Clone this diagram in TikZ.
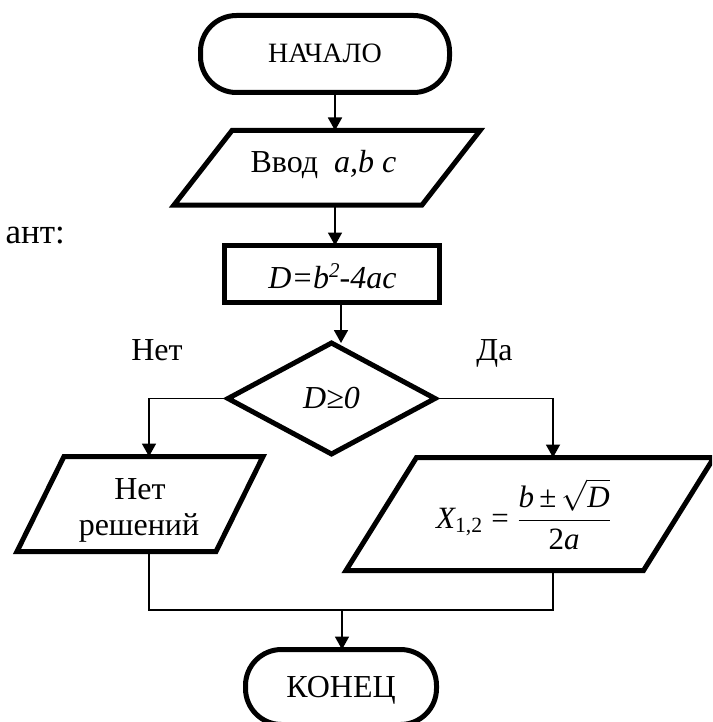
\RequirePackage{fix-cm}
\documentclass[tikz,border=0pt]{standalone}
\usepackage{amsmath}
\usepackage{fontspec}
\setmainfont{Liberation Serif}
\usetikzlibrary{arrows.meta,shapes.geometric}
\begin{document}
\begin{tikzpicture}[x=1pt,y=-1pt,
  box/.style={draw, line width=5pt, inner sep=0pt, outer sep=0pt},
  term/.style={box, rounded corners=36pt},
  outline/.style={line width=5pt, line join=miter},
  link/.style={line width=1.8pt},
  arr/.style={link, -{Triangle[length=13pt,width=14pt]}},
  txt/.style={inner sep=0pt, anchor=base, font=\fontsize{32}{36}\selectfont},
]
\useasboundingbox (0,0) rectangle (712,722);
\clip (0,0) rectangle (712,722);

% shapes
\node[term, minimum width=249pt, minimum height=77pt] (start) at (325,54) {};
\draw[outline] (232,130.5) -- (480,130.5) -- (422,205) -- (174,205) -- cycle;
\coordinate (inpN) at (335,130.5);
\coordinate (inpS) at (335,205);
\node[box, minimum width=215pt, minimum height=57pt] (calc) at (332,274) {};
\node[box, diamond, minimum width=207pt, minimum height=111pt] (dec) at (331.5,398.5) {};
\draw[outline] (64,456.5) -- (263,456.5) -- (216,551.5) -- (17,551.5) -- cycle;
\coordinate (noT) at (149,456.5);
\coordinate (noB) at (149,551.5);
\draw[outline] (416.5,457.5) -- (714,457.5) -- (643.5,570.5) -- (346,570.5) -- cycle;
\coordinate (yesT) at (553,457.5);
\coordinate (yesB) at (553,570.5);
\node[term, minimum width=191pt, minimum height=75pt] (finish) at (341,687) {};
\coordinate (join) at (342,610);

% connectors
\draw[arr] (start.south -| inpN) -- (inpN);
\draw[arr] (inpS) -- (inpS |- calc.north);
\draw[arr] ([xshift=9pt]calc.south) -- ([xshift=9pt]calc.south |- dec.north);
\draw[arr] (dec.west) -| (noT);
\draw[arr] (dec.east) -| (yesT);
\draw[link] (noB) |- (join) -| (yesB);
\draw[arr] (join) -- (join |- finish.north);

% texts
\node[txt, font=\fontsize{28}{32}\selectfont] (tStart) at (325,63) {НАЧАЛО};
\node[txt] (tInp) at (323.5,173) {Ввод\ \ \textit{a,b c}};
\node[txt] (tCalc) at (332.5,288) {\textit{D=b{\fontsize{21}{21}\selectfont\raisebox{11pt}{2}}-4ac}};
\node[txt] (tDec) at (331.5,408) {\textit{D≥0}};
\node[txt] (tNoLbl) at (157,360) {Нет};
\node[txt] (tYesLbl) at (494.5,360) {Да};
\node[txt] (tNo1) at (140,499) {Нет};
\node[txt] (tNo2) at (139,535) {решений};
\node[inner sep=0pt, anchor=base west, font=\fontsize{31}{36}\selectfont] (tYes) at (436,528)
  {$\textit{X}_{\text{1,2}}\;\text{=}\;\dfrac{\textit{b}\,\text{±}\,\sqrt{\textit{D}}}{\text{2}\textit{a}}$};
\node[txt] (tEnd) at (341,697) {КОНЕЦ};
\node[txt, anchor=base east, font=\fontsize{35}{38}\selectfont] (tSide) at (65,243) {ант:};
\end{tikzpicture}
\end{document}
